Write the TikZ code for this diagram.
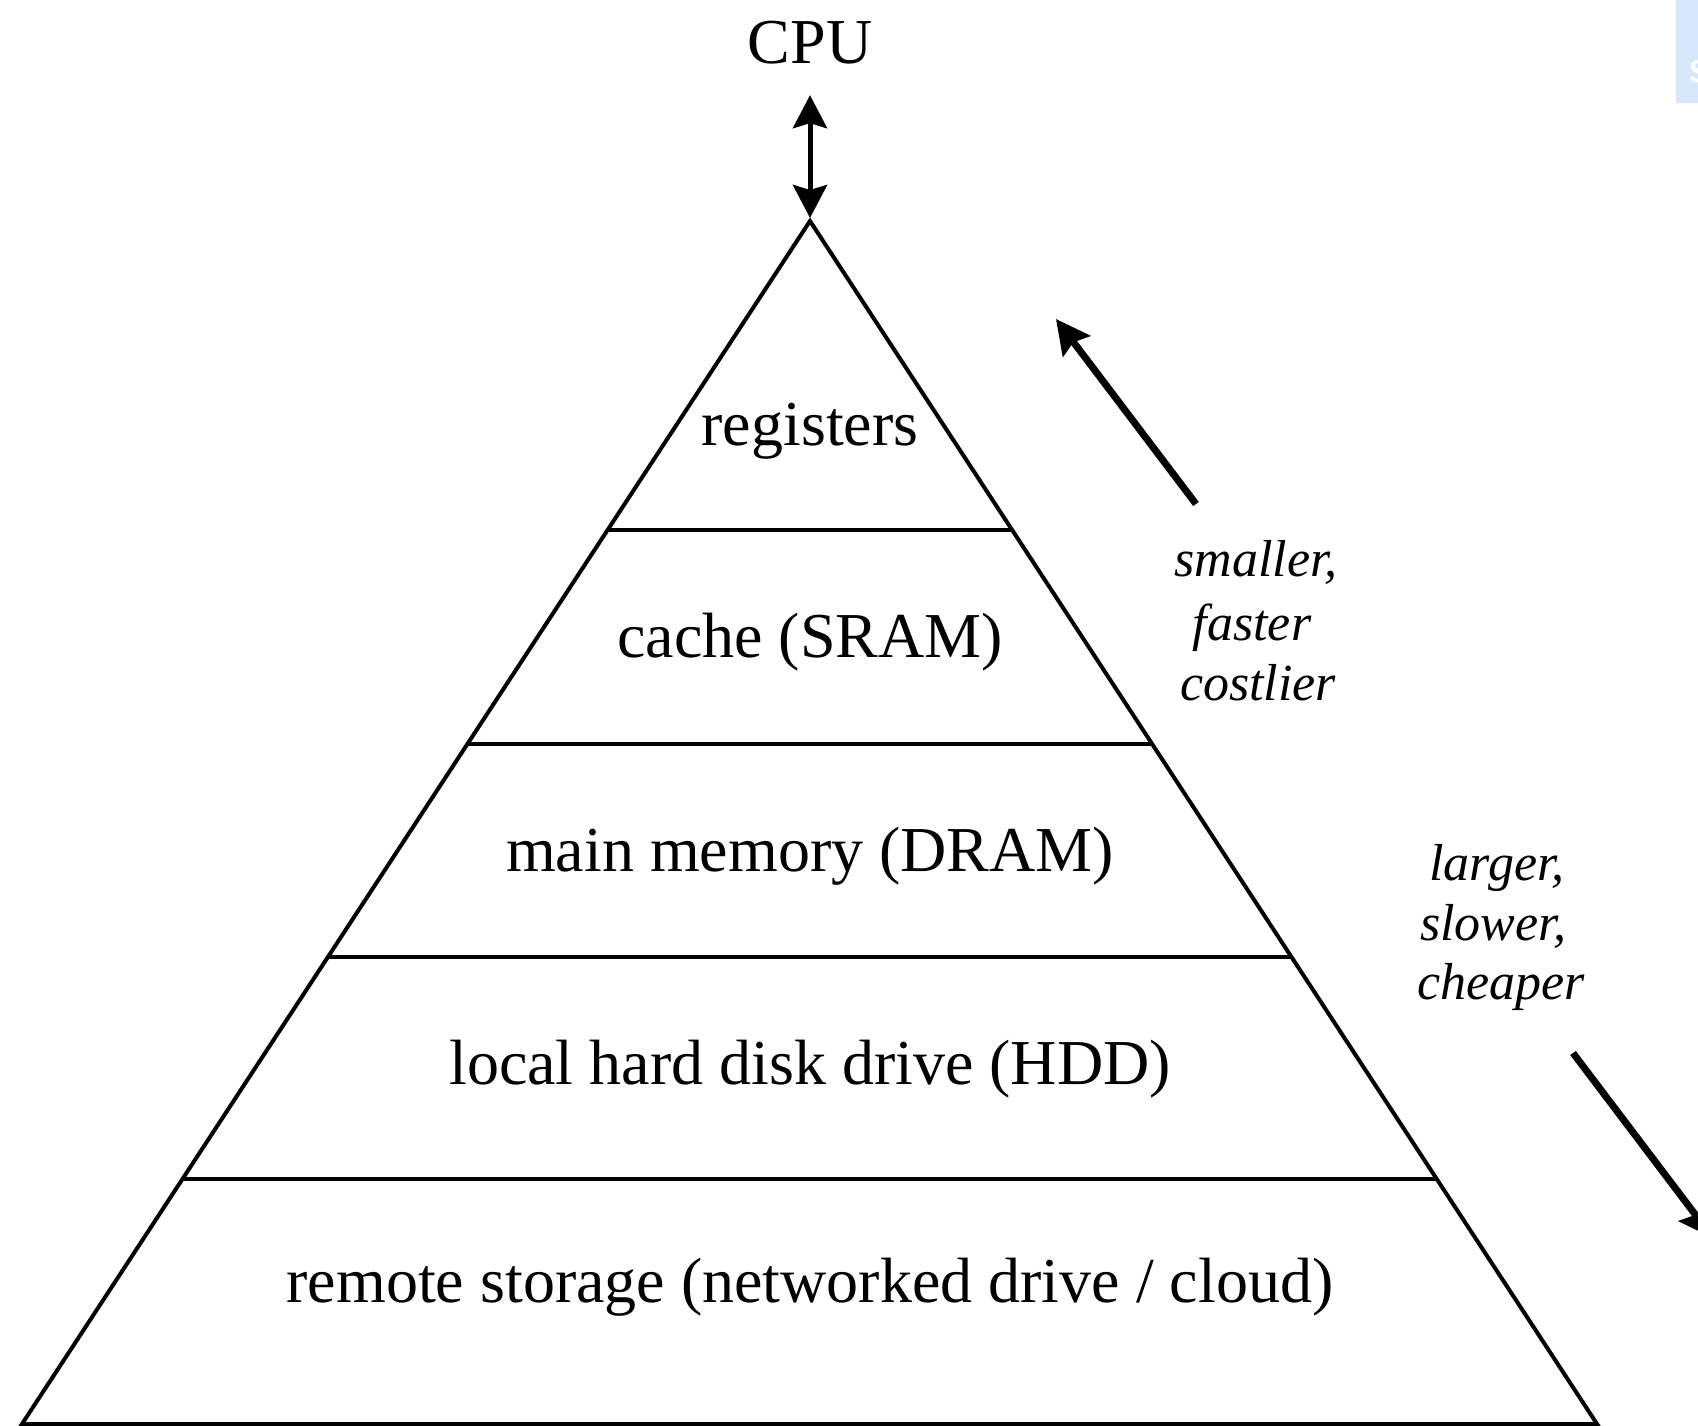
\documentclass[tikz,border=0pt]{standalone}
\usepackage{fontspec}
\setmainfont{Liberation Serif}
\usetikzlibrary{arrows.meta,calc}

\tikzset{
  edge/.style={line width=4pt, line join=miter},
  divider/.style={line width=3.5pt},
  level/.style={anchor=base, font=\fontsize{64}{64}\selectfont},
  note/.style={anchor=base, font=\fontsize{52}{58}\selectfont\itshape},
  bigtip/.style={line width=7pt, -{Stealth[length=34pt,width=34pt,inset=5pt]}},
  cputip/.style={line width=5pt, {Stealth[length=33pt,width=34pt,inset=5pt]}-{Stealth[length=33pt,width=34pt,inset=5pt]}},
}

\begin{document}
\begin{tikzpicture}[x=1pt, y=-1pt]
  \useasboundingbox (0,0) rectangle (1698,1425);
  \clip (0,0) rectangle (1698,1425);

  % corner badge
  \fill[fill={rgb,255:red,214;green,230;blue,251}] (1676,0) rectangle (1698,103);
  \node[anchor=base west, inner sep=0pt, text=white, font=\sffamily\bfseries\fontsize{46}{46}\selectfont] (badge) at (1689,82) {s};

  % pyramid corners
  \coordinate (apex) at (810,221);
  \coordinate (bl) at (22,1424);
  \coordinate (br) at (1597,1424);

  % level boundaries on the two slanted sides
  \foreach \i/\t in {1/0.2569, 2/0.4347, 3/0.6118, 4/0.7963} {
    \coordinate (l\i) at ($(apex)!\t!(bl)$);
    \coordinate (r\i) at ($(apex)!\t!(br)$);
  }

  \draw[edge] (apex) -- (bl) -- (br) -- cycle;
  \foreach \i in {1,...,4} { \draw[divider] (l\i) -- (r\i); }

  % level labels
  \node[level] (cpu)  at (810,63)   {CPU};
  \node[level] (reg)  at (810,445)  {registers};
  \node[level] (sram) at (810,657)  {cache (SRAM)};
  \node[level] (dram) at (810,871)  {main memory (DRAM)};
  \node[level] (hdd)  at (810,1084) {local hard disk drive (HDD)};
  \node[level] (rem)  at (810,1302) {remote storage (networked drive / cloud)};

  % CPU link
  \draw[cputip, shorten <=28pt, shorten >=3pt] (cpu.south) -- (apex);

  % trade-off notes
  \node[note] (up1) at (1256,576) {smaller,};
  \node[note] (up2) at (1252,640) {faster};
  \node[note] (up3) at (1258,700) {costlier};
  \node[note] (dn1) at (1497,880) {larger,};
  \node[note] (dn2) at (1493,940) {slower,};
  \node[note] (dn3) at (1501,999) {cheaper};

  \coordinate (upfrom) at (1196,504);
  \coordinate (upto)   at (1056,319);
  \coordinate (dnfrom) at (1573,1053);
  \coordinate (dnto)   at (1713,1238);
  \draw[bigtip] (upfrom) -- (upto);
  \draw[bigtip] (dnfrom) -- (dnto);
\end{tikzpicture}
\end{document}
